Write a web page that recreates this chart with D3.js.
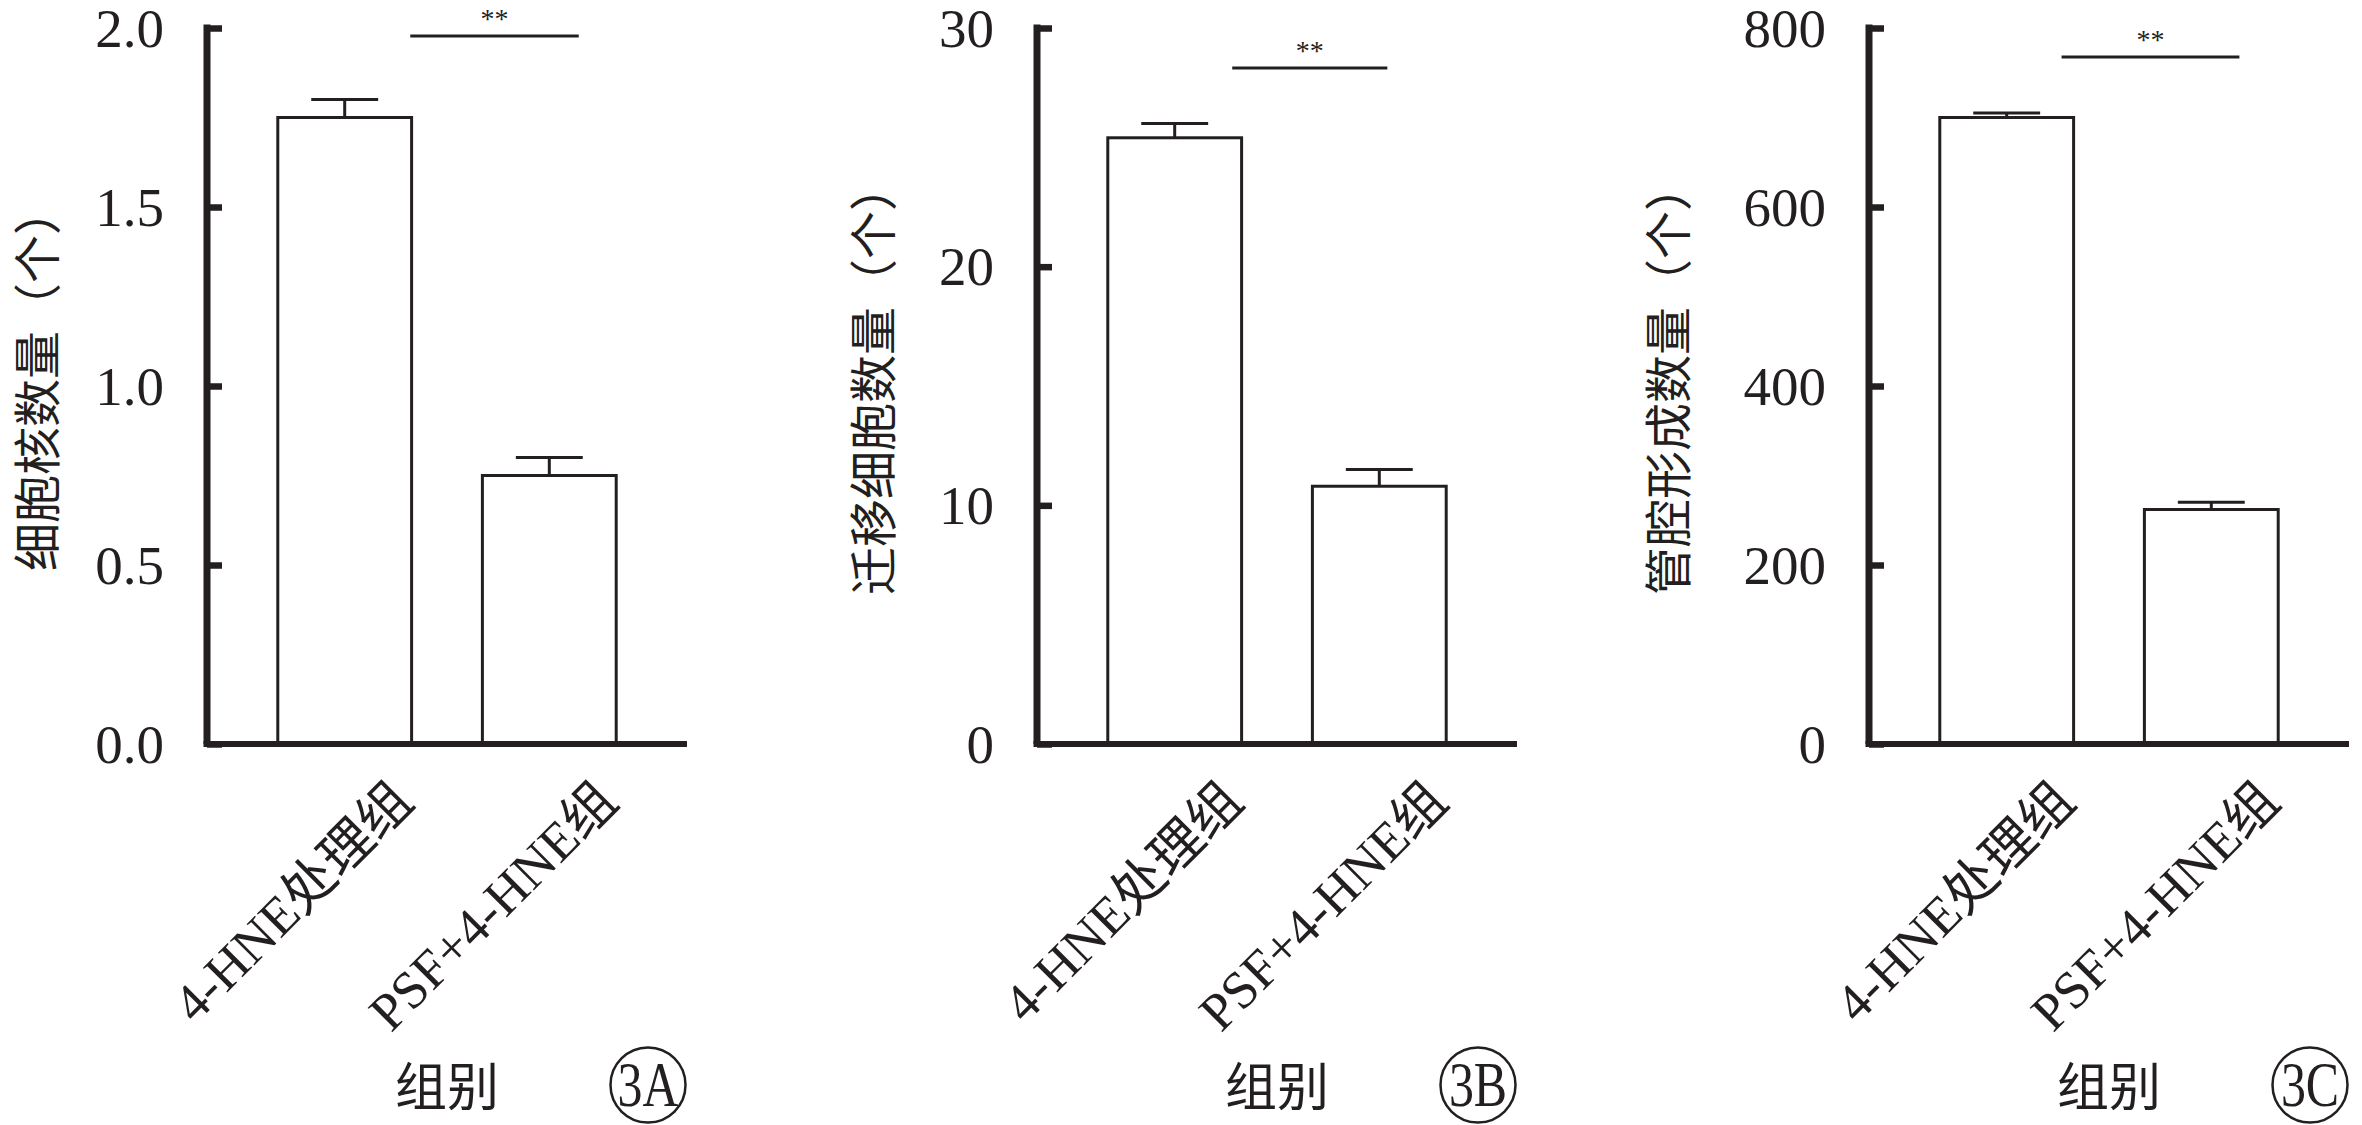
<!DOCTYPE html>
<html><head><meta charset="utf-8">
<script src="https://cdn.jsdelivr.net/npm/d3@7"></script>
<style>html,body{margin:0;padding:0;background:#fff}svg{display:block}</style>
</head>
<body>
<svg id="chart" width="2362" height="1125"></svg>
<script>
// ---- data ----
const categories = ["4-HNE处理组", "PSF+4-HNE组"];
const nucleiMeans = [1.75, 0.75];
const nucleiErrors = [0.05, 0.05];
const migrationMeans = [25.4, 10.8];
const migrationErrors = [0.6, 0.7];
const tubeMeans = [700, 262];
const tubeErrors = [5, 8];
const nucleiTicks = [0.0, 0.5, 1.0, 1.5, 2.0];
const migrationTicks = [0, 10, 20, 30];
const tubeTicks = [0, 200, 400, 600, 800];
const yTitles = ["细胞核数量（个）", "迁移细胞数量（个）", "管腔形成数量（个）"];
const panelTags = ["3A", "3B", "3C"];
const xTitle = "组别";
const sigLabel = "**";

// ---- layout ----
const serif = "'Liberation Serif','Noto Sans CJK SC',serif";
const panels = [
  {means: nucleiMeans, errs: nucleiErrors, ticks: nucleiTicks, fmt: d3.format(".1f"),
   title: yTitles[0], tag: panelTags[0], x0: 207, titleX: 38, sig: [0.99, 0.72], sigY: 36},
  {means: migrationMeans, errs: migrationErrors, ticks: migrationTicks, fmt: d3.format("d"),
   title: yTitles[1], tag: panelTags[1], x0: 1037, titleX: 874, sig: [0.93, 0.56], sigY: 68},
  {means: tubeMeans, errs: tubeErrors, ticks: tubeTicks, fmt: d3.format("d"),
   title: yTitles[2], tag: panelTags[2], x0: 1869, titleX: 1669, sig: [0.91, 0.71], sigY: 57}
];
const plotTop = 28, plotBottom = 744, axisW = 480;
const ink = "#231f20";

const svg = d3.select("#chart");
svg.append("rect").attr("width", 2362).attr("height", 1125).attr("fill", "#fff");

panels.forEach(p => {
  const maxV = d3.max(p.ticks);
  const y = d3.scaleLinear().domain([0, maxV]).range([plotBottom, plotTop]);
  const x = d3.scaleBand().domain(categories).range([0, axisW]).paddingInner(0.346).paddingOuter(0.346);
  const g = svg.append("g").attr("transform", `translate(${p.x0},0)`);
  const bw = x.bandwidth();

  categories.forEach((c, i) => {
    const bx = x(c);
    const cx = bx + bw / 2;
    const hi = p.means[i] + p.errs[i];
    g.append("line").attr("x1", cx).attr("x2", cx)
      .attr("y1", y(p.means[i])).attr("y2", y(hi))
      .attr("stroke", ink).attr("stroke-width", 3);
    g.append("line").attr("x1", cx - bw * 0.25).attr("x2", cx + bw * 0.25)
      .attr("y1", y(hi)).attr("y2", y(hi))
      .attr("stroke", ink).attr("stroke-width", 3);
    g.append("rect").attr("x", bx).attr("y", y(p.means[i]))
      .attr("width", bw).attr("height", y(0) - y(p.means[i]))
      .attr("fill", "#fff").attr("stroke", ink).attr("stroke-width", 3);
  });

  // y axis
  const ay = g.append("g").call(d3.axisLeft(y).tickValues(p.ticks).tickFormat(p.fmt)
      .tickSizeInner(-15).tickSizeOuter(0).tickPadding(43));
  ay.select(".domain").attr("stroke", ink).attr("stroke-width", 7)
    .attr("d", `M0,${plotTop - 3.5}V${plotBottom}`);
  ay.selectAll(".tick line").attr("stroke", ink).attr("stroke-width", 6.5);
  ay.selectAll(".tick text").attr("font-family", serif).attr("font-size", 55)
    .attr("fill", ink).attr("dy", "0.33em");

  // x axis line
  const ax = g.append("g").attr("transform", `translate(0,${plotBottom})`)
    .call(d3.axisBottom(x).tickSize(0).tickFormat(""));
  ax.select(".domain").attr("stroke", ink).attr("stroke-width", 6)
    .attr("d", `M-3.5,0H${axisW}`);

  // category labels
  categories.forEach(c => {
    const cx = x(c) + bw / 2;
    g.append("text").attr("transform", `translate(${cx + 71},${plotBottom + 60}) rotate(-45)`)
      .attr("text-anchor", "end").attr("font-family", serif).attr("font-size", 53)
      .attr("fill", ink).text(c);
  });

  // significance
  const sx1 = x(categories[0]) + bw * p.sig[0];
  const sx2 = x(categories[1]) + bw * p.sig[1];
  g.append("line").attr("x1", sx1).attr("x2", sx2)
    .attr("y1", p.sigY).attr("y2", p.sigY).attr("stroke", ink).attr("stroke-width", 3);
  g.append("text").attr("x", (sx1 + sx2) / 2).attr("y", p.sigY - 8)
    .attr("text-anchor", "middle").attr("font-family", serif).attr("font-size", 28)
    .attr("fill", ink).text(sigLabel);

  // y title
  svg.append("text").attr("transform", `translate(${p.titleX},379) rotate(-90)`)
    .attr("text-anchor", "middle").attr("dominant-baseline", "central")
    .attr("font-family", serif).attr("font-size", 48).attr("fill", ink).text(p.title);

  // x title
  g.append("text").attr("x", axisW / 2).attr("y", 1106).attr("text-anchor", "middle")
    .attr("font-family", serif).attr("font-size", 52).attr("fill", ink).text(xTitle);

  // panel tag
  g.append("circle").attr("cx", 441).attr("cy", 1085).attr("r", 37.5)
    .attr("fill", "none").attr("stroke", ink).attr("stroke-width", 2.5);
  g.append("text").attr("transform", "translate(441,1085) scale(0.78,1)")
    .attr("dy", "0.33em").attr("text-anchor", "middle")
    .attr("font-family", serif).attr("font-size", 64).attr("fill", ink).text(p.tag);
});
</script>
</body></html>
